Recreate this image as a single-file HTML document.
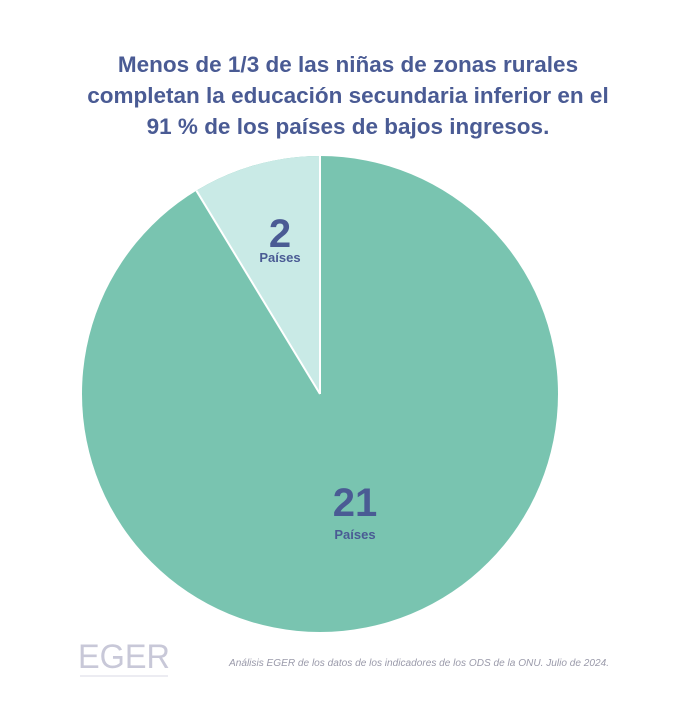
<!DOCTYPE html>
<html><head><meta charset="utf-8"><style>
html,body{margin:0;padding:0;background:#fff;}
body{width:696px;height:720px;position:relative;overflow:hidden;font-family:"Liberation Sans",sans-serif;}
.t{position:absolute;left:0;width:696px;top:49px;text-align:center;color:#4a5b94;font-weight:bold;font-size:22.5px;line-height:31px;}
</style></head><body>
<div class="t">Menos de 1/3 de las niñas de zonas rurales<br>completan la educación secundaria inferior en el<br>91 % de los países de bajos ingresos.</div>
<svg width="696" height="720" style="position:absolute;left:0;top:0">
<circle cx="320" cy="394" r="238" fill="#79c4b0"/>
<path d="M320,394 L320,156 A238,238 0 0 0 196.4,190.7 Z" fill="#c9eae6"/>
<line x1="320" y1="394" x2="320" y2="156" stroke="#fff" stroke-width="2"/>
<line x1="320" y1="394" x2="196.4" y2="190.7" stroke="#fff" stroke-width="2"/>
<g fill="#4a5b94" font-family="Liberation Sans, sans-serif" font-weight="bold" text-anchor="middle">
<text x="280" y="247" font-size="40">2</text>
<text x="280" y="262" font-size="13">Países</text>
<text x="355" y="516" font-size="40">21</text>
<text x="355" y="539" font-size="13">Países</text>
</g>
<text x="78" y="668" font-size="34" fill="#c8c8d8" font-family="Liberation Sans, sans-serif" textLength="92" lengthAdjust="spacingAndGlyphs">EGER</text>
<rect x="80" y="675" width="88" height="2" fill="#ececf2"/>
<text x="229" y="666" font-size="10" fill="#9a9aaa" font-style="italic" font-family="Liberation Sans, sans-serif" textLength="380" lengthAdjust="spacingAndGlyphs">Análisis EGER de los datos de los indicadores de los ODS de la ONU. Julio de 2024.</text>
</svg>
</body></html>
